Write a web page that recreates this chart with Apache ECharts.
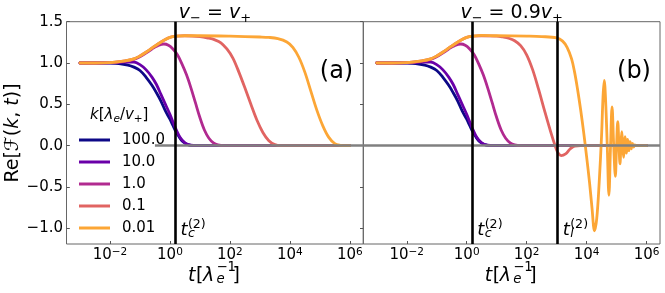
<!DOCTYPE html>
<html><head><meta charset="utf-8">
<script src="https://cdn.jsdelivr.net/npm/echarts@6/dist/echarts.min.js"></script>
<style>html,body{margin:0;padding:0;background:#fff}#c{width:665px;height:293px}</style>
</head><body><div id="c"></div>
<script>
// ---------- data (x values are log10 of t) ----------
const kLabels = ['100.0', '10.0', '1.0', '0.1', '0.01'];
const colors = ['#0d0887', '#6a00a8', '#b12a90', '#e16462', '#fca636'];

const xTicks = [-2, 0, 2, 4, 6];
const yTicks = [-1.0, -0.5, 0.0, 0.5, 1.0, 1.5];

// k = 100 (both panels)
const logT_k100 = [-3, -2.5, -2, -1.7, -1.4, -1.2, -1.0, -0.8, -0.6, -0.45, -0.3, -0.15, 0, 0.1, 0.2, 0.3, 0.4, 0.5, 0.6, 0.7, 0.85, 2, 4, 6];
const val_k100  = [1.0, 1.0, 0.999, 0.994, 0.975, 0.95, 0.91, 0.83, 0.73, 0.64, 0.54, 0.42, 0.32, 0.245, 0.17, 0.11, 0.06, 0.03, 0.012, 0.004, 0, 0, 0, 0];
// k = 10 (both panels)
const logT_k10 = [-3, -2, -1.5, -1.2, -1.0, -0.8, -0.6, -0.45, -0.3, -0.15, 0, 0.1, 0.2, 0.3, 0.4, 0.5, 0.6, 0.7, 0.85, 2, 4, 6];
const val_k10  = [1.0, 1.002, 1.01, 1.01, 0.98, 0.92, 0.83, 0.74, 0.62, 0.50, 0.38, 0.29, 0.20, 0.125, 0.07, 0.035, 0.014, 0.005, 0, 0, 0, 0];
// k = 1 (both panels)
const logT_k1 = [-3, -2.5, -2, -1.5, -1.2, -1.0, -0.8, -0.6, -0.4, -0.2, -0.05, 0.1, 0.25, 0.4, 0.55, 0.7, 0.85, 1.0, 1.15, 1.3, 1.45, 1.6, 1.8, 3, 6];
const val_k1  = [1.0, 1.0, 1.005, 1.02, 1.045, 1.075, 1.12, 1.17, 1.21, 1.23, 1.215, 1.17, 1.10, 0.99, 0.86, 0.70, 0.52, 0.34, 0.19, 0.09, 0.035, 0.01, 0, 0, 0];
// k = 0.1, panel (a)
const logT_k01a = [-3, -2.5, -2, -1.5, -1.2, -1.0, -0.8, -0.6, -0.4, -0.2, 0, 0.2, 0.5, 1.0, 1.3, 1.5, 1.7, 1.9, 2.1, 2.3, 2.5, 2.7, 2.9, 3.1, 3.3, 3.5, 3.7, 4, 6];
const val_k01a  = [1.0, 1.0, 1.005, 1.025, 1.05, 1.085, 1.13, 1.18, 1.23, 1.275, 1.31, 1.325, 1.33, 1.32, 1.30, 1.28, 1.245, 1.17, 1.06, 0.89, 0.70, 0.50, 0.31, 0.16, 0.06, 0.012, 0, 0, 0];
// k = 0.01, panel (a)
const logT_k001a = [-3, -2.5, -2, -1.5, -1.2, -1.0, -0.8, -0.6, -0.4, -0.2, 0, 0.2, 0.5, 1, 2, 3, 3.3, 3.6, 3.9, 4.1, 4.3, 4.5, 4.7, 4.9, 5.1, 5.3, 5.5, 5.7, 5.85, 6];
const val_k001a  = [1.0, 1.0, 1.005, 1.025, 1.05, 1.085, 1.13, 1.18, 1.23, 1.275, 1.31, 1.325, 1.33, 1.33, 1.325, 1.315, 1.31, 1.295, 1.255, 1.19, 1.07, 0.89, 0.66, 0.43, 0.24, 0.10, 0.025, 0.004, 0, 0];
// k = 0.1, panel (b)
const logT_k01b = [-3, -2.5, -2, -1.5, -1.2, -1.0, -0.8, -0.6, -0.4, -0.2, 0, 0.2, 0.5, 1.0, 1.2, 1.4, 1.6, 1.8, 2.0, 2.2, 2.4, 2.6, 2.8, 2.95, 3.05, 3.15, 3.3, 3.45, 3.6, 3.8, 6];
const val_k01b  = [1.0, 1.0, 1.005, 1.025, 1.05, 1.085, 1.13, 1.18, 1.23, 1.275, 1.31, 1.325, 1.33, 1.325, 1.315, 1.30, 1.27, 1.21, 1.10, 0.92, 0.68, 0.42, 0.17, 0.0, -0.09, -0.12, -0.10, -0.04, -0.005, 0, 0];
// k = 0.01, panel (b)
const logT_k001b = [-3, -2.5, -2, -1.5, -1.2, -1.0, -0.8, -0.6, -0.4, -0.2, 0, 0.2, 0.5, 1, 2, 2.5, 3.0, 3.2, 3.35, 3.5, 3.6, 3.7, 3.8, 3.9, 4.0, 4.1, 4.18, 4.265, 4.34, 4.42, 4.5, 4.55, 4.59, 4.635, 4.69, 4.745, 4.8, 4.85, 4.905, 4.96, 5.0, 5.04, 5.08, 5.115, 5.145, 5.175, 5.205, 5.235, 5.26, 5.285, 5.31, 5.33, 5.35, 5.37, 5.39, 5.41, 5.43, 5.45, 5.47, 5.49, 5.51, 5.53, 5.55, 5.57, 5.59, 5.61, 5.63, 5.7, 6];
const val_k001b  = [1.0, 1.0, 1.005, 1.025, 1.05, 1.085, 1.13, 1.18, 1.23, 1.275, 1.31, 1.325, 1.335, 1.33, 1.325, 1.32, 1.305, 1.265, 1.19, 1.05, 0.89, 0.68, 0.44, 0.17, -0.13, -0.45, -0.75, -1.03, -0.88, -0.45, 0.12, 0.6, 0.79, 0.55, 0, -0.60, 0, 0.47, 0, -0.37, 0, 0.29, 0, -0.22, 0, 0.17, 0, -0.14, 0, 0.11, 0, -0.09, 0, 0.075, 0, -0.06, 0, 0.048, 0, -0.038, 0, 0.028, 0, -0.018, 0, 0.01, 0, 0, 0];

// reference markers (log10 t)
const logTc = 0.167;
const logTl = 3.02;
const zeroLineStartA = -0.5;

// ---------- layout ----------
const xMin = -3.45, xMax = 6.45, yMin = -1.19, yMax = 1.5;
const FONT = 'DejaVu Sans';
const pts = (xs, ys) => xs.map((x, i) => [x, ys[i]]);
const fmtExp = v => (v < 0 ? '\u2212' + Math.abs(v) : String(v));
const fmtY = v => (v < 0 ? '\u2212' : '') + Math.abs(v).toFixed(1);

const grids = [
  { left: 66.5, top: 21.7, width: 296.8, height: 222.3 },
  { left: 363.3, top: 21.7, width: 296.7, height: 222.3 }
].map(g => Object.assign(g, { show: true, borderColor: '#666', borderWidth: 1, backgroundColor: 'transparent', containLabel: false, outerBoundsMode: 'none' }));

function xAxisCfg(gi) {
  return {
    type: 'value', gridIndex: gi, min: xMin, max: xMax, position: 'bottom',
    axisLine: { show: false, onZero: false }, splitLine: { show: false },
    axisTick: { show: true, inside: true, length: 3, lineStyle: { color: '#555', width: 1 }, customValues: xTicks },
    axisLabel: {
      customValues: xTicks, margin: 2.5, color: '#000',
      formatter: v => '{b|10}{s|' + fmtExp(v) + '}',
      rich: {
        b: { fontSize: 15, fontFamily: FONT, color: '#000', lineHeight: 18 },
        s: { fontSize: 10.5, fontFamily: FONT, color: '#000', lineHeight: 10, verticalAlign: 'top' }
      }
    }
  };
}
function yAxisCfg(gi, showLabels) {
  return {
    type: 'value', gridIndex: gi, min: yMin, max: yMax, position: 'left',
    axisLine: { show: false, onZero: false }, splitLine: { show: false },
    axisTick: { show: true, inside: showLabels, length: 3.3, lineStyle: { color: '#555', width: 1 }, customValues: yTicks },
    axisLabel: { show: showLabels, customValues: yTicks, formatter: fmtY, fontSize: 15, fontFamily: FONT, color: '#000', margin: 3.5 }
  };
}

function curve(name, idx, gi, xs, ys) {
  return {
    type: 'line', name: name, xAxisIndex: gi, yAxisIndex: gi,
    data: pts(xs, ys), symbol: 'none', showSymbol: false, smooth: 0.35,
    lineStyle: { width: 2.8, color: colors[idx], cap: 'round', join: 'round' },
    itemStyle: { color: colors[idx] }, z: 2, silent: true, emphasis: { disabled: true }
  };
}

const series = [];
// gray zero lines
series.push({ type: 'line', name: 'zeroA', xAxisIndex: 0, yAxisIndex: 0, data: [], z: 1, silent: true,
  markLine: { silent: true, symbol: ['none', 'none'], label: { show: false }, animation: false,
    lineStyle: { color: '#808080', width: 2.6, type: 'solid' },
    data: [[{ coord: [zeroLineStartA, 0] }, { coord: [xMax, 0] }]] } });
series.push({ type: 'line', name: 'zeroB', xAxisIndex: 1, yAxisIndex: 1, data: [], z: 1, silent: true,
  markLine: { silent: true, symbol: ['none', 'none'], label: { show: false }, animation: false,
    lineStyle: { color: '#808080', width: 2.6, type: 'solid' },
    data: [[{ coord: [xMin, 0] }, { coord: [xMax, 0] }]] } });

const panelA = [[logT_k100, val_k100], [logT_k10, val_k10], [logT_k1, val_k1], [logT_k01a, val_k01a], [logT_k001a, val_k001a]];
const panelB = [[logT_k100, val_k100], [logT_k10, val_k10], [logT_k1, val_k1], [logT_k01b, val_k01b], [logT_k001b, val_k001b]];
panelA.forEach((d, i) => series.push(curve(kLabels[i], i, 0, d[0], d[1])));
panelB.forEach((d, i) => series.push(curve(kLabels[i], i, 1, d[0], d[1])));

// black vertical lines
series.push({ type: 'line', name: 'vA', xAxisIndex: 0, yAxisIndex: 0, data: [], z: 5, silent: true,
  markLine: { silent: true, symbol: ['none', 'none'], label: { show: false }, animation: false,
    lineStyle: { color: '#000', width: 2.6, type: 'solid' }, data: [{ xAxis: logTc }] } });
series.push({ type: 'line', name: 'vB', xAxisIndex: 1, yAxisIndex: 1, data: [], z: 5, silent: true,
  markLine: { silent: true, symbol: ['none', 'none'], label: { show: false }, animation: false,
    lineStyle: { color: '#000', width: 2.6, type: 'solid' }, data: [{ xAxis: logTc }, { xAxis: logTl }] } });

const chart = echarts.init(document.getElementById('c'), null, { renderer: 'canvas' });
chart.setOption({
  animation: false,
  backgroundColor: '#fff',
  grid: grids,
  xAxis: [xAxisCfg(0), xAxisCfg(1)],
  yAxis: [yAxisCfg(0, true), yAxisCfg(1, false)],
  legend: {
    data: kLabels, orient: 'vertical', left: 79, top: 129, padding: 0,
    itemWidth: 31, itemHeight: 3, itemGap: 0, icon: 'rect', selectedMode: false,
    formatter: n => '{g|}' + n,
    textStyle: { fontSize: 15, fontFamily: FONT, color: '#000', lineHeight: 22,
      rich: { g: { width: 7, fontSize: 15, lineHeight: 22 } } }
  },
  series: series
});

// ---------- text / annotations ----------
function piece(t, dx, base, size, italic) {
  return { type: 'text', x: dx, y: base - 0.33 * size, silent: true,
    style: { text: t, fontSize: size, fontFamily: FONT, fontStyle: italic ? 'italic' : 'normal', fill: '#000',
      align: 'left', textAlign: 'left', verticalAlign: 'middle', textVerticalAlign: 'middle' } };
}
function group(x, y, children) { return { type: 'group', x: x, y: y, children: children, silent: true }; }
function tLabel(px, py, subLetter) {
  return group(px + 5.5, py, [
    piece('t', 0, 0, 18, true),
    piece(subLetter, 7.5, 1.5, 12.6, true),
    piece('(2)', 7.5, -7.5, 12.6, false)
  ]);
}
function xLabel(cx) {
  return group(cx - 27, 282, [
    piece('t', 0, 0, 19, true),
    piece('[', 8, 0, 19, false),
    piece('\u03bb', 15, 0, 19, true),
    piece('e', 28.5, 2, 13.3, true),
    piece('\u22121', 28.5, -10, 13.3, false),
    piece(']', 44.5, 0, 19, false)
  ]);
}
function richText(x, y, text, size, rich, extra) {
  return Object.assign({ type: 'text', x: x, y: y, silent: true,
    style: Object.assign({ text: text, fontSize: size, fontFamily: FONT, fill: '#000', lineHeight: 24,
      align: 'center', textAlign: 'center', verticalAlign: 'middle', textVerticalAlign: 'middle', rich: rich }, extra || {}) });
}
const titleRich = {
  i: { fontSize: 19, fontFamily: FONT, fontStyle: 'italic', lineHeight: 24, color: '#000' },
  s: { fontSize: 13, fontFamily: FONT, lineHeight: 11, verticalAlign: 'bottom', color: '#000' }
};

const pA = chart.convertToPixel({ gridIndex: 0 }, [logTc, -1.1]);
const pB1 = chart.convertToPixel({ gridIndex: 1 }, [logTc, -1.1]);
const pB2 = chart.convertToPixel({ gridIndex: 1 }, [logTl, -1.1]);
const cA = grids[0].left + grids[0].width / 2;
const cB = grids[1].left + grids[1].width / 2;

const graphics = [
  richText(cA, 13.2, '{i|v}{s|\u2212} = {i|v}{s|+}', 19, titleRich),
  richText(cB, 13.2, '{i|v}{s|\u2212} = 0.9{i|v}{s|+}', 19, titleRich),
  richText(336.5, 71.5, '(a)', 24, {}),
  richText(634, 72, '(b)', 24, {}),
  richText(90, 115, '{i|k}[{i|\u03bb}{si|e}/{i|v}{s|+}]', 15, {
    i: { fontSize: 15, fontFamily: FONT, fontStyle: 'italic', lineHeight: 20, color: '#000' },
    si: { fontSize: 10.5, fontFamily: FONT, fontStyle: 'italic', lineHeight: 9, verticalAlign: 'bottom', color: '#000' },
    s: { fontSize: 10.5, fontFamily: FONT, lineHeight: 9, verticalAlign: 'bottom', color: '#000' }
  }, { align: 'left', textAlign: 'left', lineHeight: 20 }),
  Object.assign(richText(13, 133, 'Re[\u2131({i|k}, {i|t})]', 19, {
    i: { fontSize: 19, fontFamily: FONT, fontStyle: 'italic', lineHeight: 24, color: '#000' }
  }), { rotation: Math.PI / 2 }),
  xLabel(cA), xLabel(cB),
  tLabel(pA[0], pA[1], 'c'), tLabel(pB1[0], pB1[1], 'c'), tLabel(pB2[0], pB2[1], 'l')
];
chart.setOption({ graphic: graphics });
</script>
</body></html>
